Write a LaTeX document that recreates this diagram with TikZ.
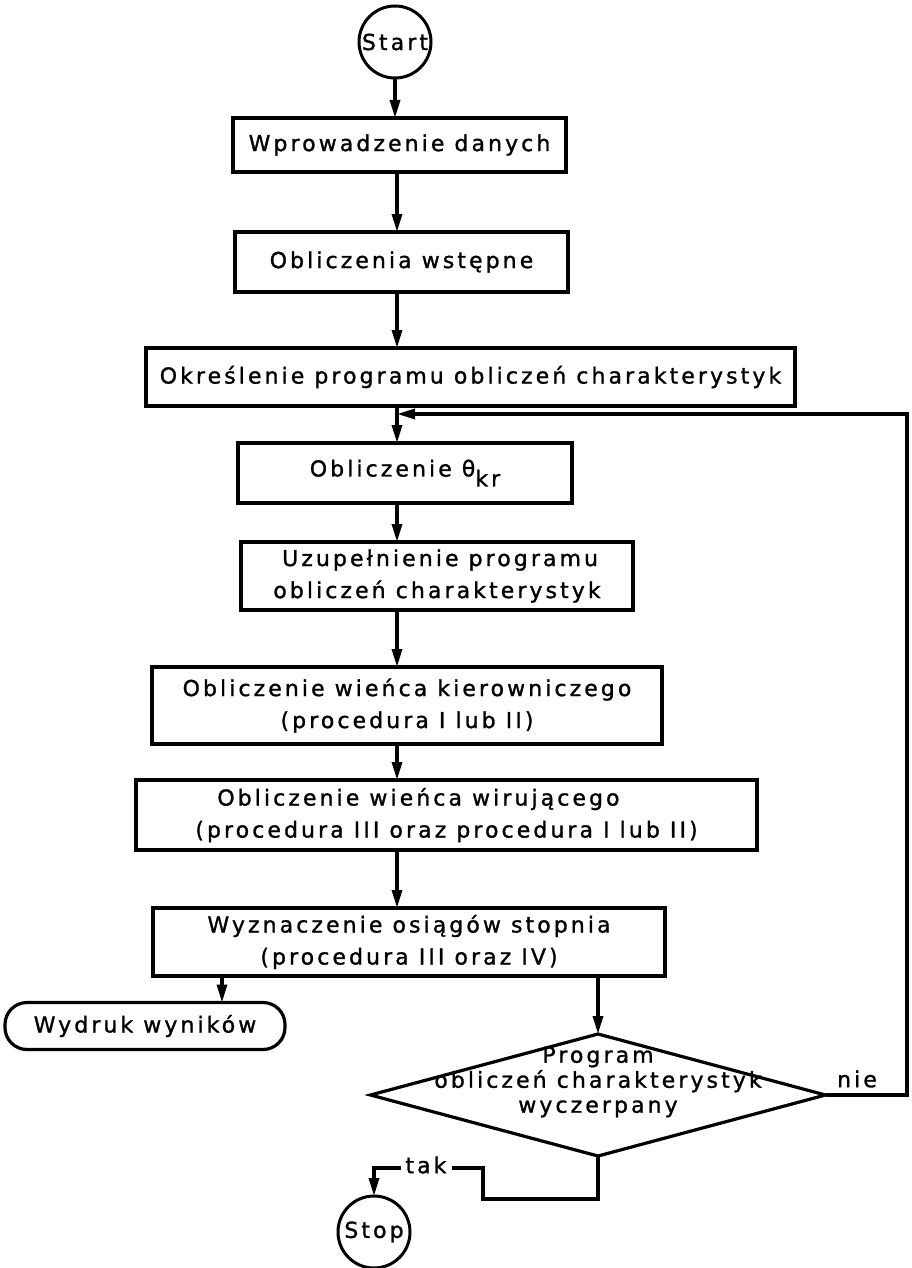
\documentclass[tikz,border=0pt]{standalone}
\usepackage{fontspec}
\setmainfont{DejaVu Sans}[LetterSpace=14,FakeBold=1.2]
\usetikzlibrary{arrows.meta,shapes.geometric}
\begin{document}
\begin{tikzpicture}[x=1pt,y=-1pt,line width=3.2pt,
  every node/.style={inner sep=0pt,outer sep=0pt},
  txt/.style={font=\fontsize{22}{32}\selectfont},
  procbox/.style={draw,txt,line width=3.2pt},
  term/.style={draw,circle,txt,minimum size=72pt,line width=3pt},
  arr/.style={-{Triangle[length=18pt,width=10pt]}}]
\useasboundingbox (0,0) rectangle (911,1268);
\coordinate (ax) at (397,0);
\coordinate (wx) at (222,0);

\node[term] (start) at (395,42) {Start};
\node[procbox,minimum width=333pt,minimum height=54pt] (b1) at (399.5,145) {Wprowadzenie danych};
\node[procbox,minimum width=333pt,minimum height=60pt] (b2) at (401.5,262) {Obliczenia wstępne};
\node[procbox,minimum width=649pt,minimum height=58pt] (b3) at (470.5,377) {Określenie programu obliczeń charakterystyk};
\node[procbox,minimum width=334pt,minimum height=60pt] (b4) at (405,473) {Obliczenie θ\raisebox{-0.45em}{kr}};
\node[procbox,minimum width=392pt,minimum height=68pt,align=left] (b5) at (437,576) {\hspace*{0.4em}Uzupełnienie programu\\obliczeń charakterystyk};
\node[procbox,minimum width=510pt,minimum height=77pt,align=center] (b6) at (407,705.5) {Obliczenie wieńca kierowniczego\\(procedura I lub II)};
\node[procbox,minimum width=621pt,minimum height=70pt,align=left] (b7) at (446.5,815) {\hspace*{1em}Obliczenie wieńca wirującego\\(procedura III oraz procedura I lub II)};
\node[procbox,minimum width=512pt,minimum height=68pt,align=center] (b8) at (409,942) {Wyznaczenie osiągów stopnia\\(procedura III oraz IV)};
\node[procbox,rounded corners=22pt,minimum width=280pt,minimum height=47pt] (out) at (145,1026) {Wydruk wyników};
\node[draw,diamond,minimum width=455pt,minimum height=122pt,line width=3.2pt] (dec) at (598,1095) {};
\node[txt,font=\fontsize{22}{25}\selectfont,align=center] (dectxt) at (598,1082) {Program\\obliczeń charakterystyk\\wyczerpany};
\node[txt] (nie) at (857,1079) {nie};
\node[txt] (tak) at (426,1165) {tak};
\node[term] (stop) at (374,1232) {Stop};
\coordinate (fb) at (907,414);
\coordinate (t1) at (483,1199);
\coordinate (t2) at (483,1168);

\draw[arr] (start.south) -- (start.south |- b1.north);
\draw[arr] (b1.south -| ax) -- (b2.north -| ax);
\draw[arr] (b2.south -| ax) -- (b3.north -| ax);
\draw[arr] (b3.south -| ax) -- (b4.north -| ax);
\draw[arr] (b4.south -| ax) -- (b5.north -| ax);
\draw[arr] (b5.south -| ax) -- (b6.north -| ax);
\draw[arr] (b6.south -| ax) -- (b7.north -| ax);
\draw[arr] (b7.south -| ax) -- (b8.north -| ax);
\draw[arr] (b8.south -| wx) -- (out.north -| wx);
\draw[arr] (b8.south -| dec.north) -- (dec.north);
\draw[arr] (dec.east) -| (fb) -- (fb -| ax);
\draw (dec.south) |- (t1) -- (t2) -- ([xshift=5pt]t2 -| tak.east);
\draw[arr] ([xshift=-5pt]t2 -| tak.west) -| (stop.north);
\end{tikzpicture}
\end{document}
